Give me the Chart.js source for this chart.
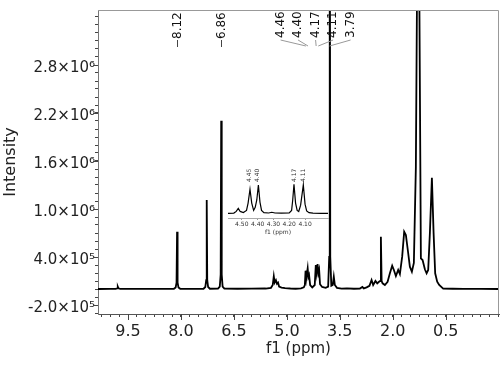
<!DOCTYPE html>
<html>
<head>
<meta charset="utf-8">
<script src="https://cdn.jsdelivr.net/npm/chart.js@4.4.1/dist/chart.umd.min.js"></script>
<style>
  html, body { margin: 0; padding: 0; background: #fff; }
  #wrap { position: relative; width: 501px; height: 373px; }
  #main { position: absolute; left: 0; top: 0; }
  #inset { position: absolute; left: 226px; top: 160px; }
</style>
</head>
<body>
<div id="wrap">
  <canvas id="main" width="501" height="373"></canvas>
  <canvas id="inset" width="104" height="80"></canvas>
</div>
<script>
// 1H spectrum: shift in ppm, intensity in units of 10^6
var shift = [10.35, 10.0, 9.85, 9.81, 9.79, 9.77, 9.72, 9.0, 8.40,
  8.20, 8.15, 8.125, 8.11, 8.095, 8.07, 8.02, 7.60,
  7.36, 7.31, 7.285, 7.27, 7.255, 7.23, 7.18,
  6.95, 6.90, 6.875, 6.86, 6.845, 6.82, 6.77, 6.40, 6.00, 5.60,
  5.45, 5.40, 5.37, 5.345, 5.31, 5.28, 5.25, 5.22, 5.15, 5.05, 4.90, 4.75, 4.60,
  4.52, 4.49, 4.47, 4.45, 4.41, 4.39, 4.37, 4.34, 4.28, 4.21, 4.18, 4.155, 4.13, 4.105, 4.085, 4.06, 4.00, 3.90,
  3.83, 3.80, 3.785, 3.77, 3.74, 3.70, 3.67, 3.64, 3.58, 3.45, 3.30, 3.10,
  2.93, 2.86, 2.82, 2.74, 2.66, 2.60, 2.555, 2.49, 2.44, 2.39, 2.355, 2.336, 2.315, 2.288, 2.223, 2.146,
  2.081, 2.016, 1.968, 1.911, 1.846, 1.798, 1.733, 1.676, 1.628, 1.563, 1.515, 1.458, 1.402,
  1.345, 1.308, 1.279, 1.251, 1.203, 1.155, 1.090, 1.041, 0.996, 0.948, 0.891, 0.843, 0.798,
  0.741, 0.684, 0.571, 0.30, 0.00, -0.50, -1.01];
var intensityE6 = [0, 0.001, 0.002, 0.008, 0.03, 0.008, 0.002, 0.001, 0.002,
  0.003, 0.02, 0.08, 0.716, 0.08, 0.02, 0.003, 0.002,
  0.003, 0.025, 0.11, 1.1125, 0.11, 0.025, 0.003,
  0.004, 0.03, 0.18, 2.104, 0.18, 0.03, 0.004, 0.003, 0.004, 0.006,
  0.015, 0.05, 0.16, 0.08, 0.11, 0.065, 0.08, 0.03, 0.018, 0.012, 0.006, 0.003, 0.008,
  0.02, 0.05, 0.229, 0.13, 0.259, 0.15, 0.175, 0.05, 0.02, 0.05, 0.30, 0.2, 0.3125, 0.2, 0.2375, 0.06, 0.025, 0.015,
  0.03, 0.4, 6.0, 0.4, 0.04, 0.05, 0.154, 0.05, 0.015, 0.005, 0.008, 0.003,
  0.005, 0.025, 0.008, 0.02, 0.04, 0.1125, 0.05, 0.1, 0.071, 0.091, 0.1, 0.654, 0.1, 0.071, 0.05, 0.091,
  0.196, 0.291, 0.2375, 0.1625, 0.2375, 0.1875, 0.404, 0.716, 0.675, 0.45, 0.279, 0.216, 0.325,
  1.529, 4.0, 6.0, 4.0, 0.384, 0.3625, 0.246, 0.196, 0.2375, 0.7, 1.391, 0.7, 0.196,
  0.091, 0.05, 0.005, 0.003, 0.002, 0.001, 0];

// expanded 4.6-3.95 ppm region (inset)
var insetShift = [4.587, 4.55, 4.535, 4.522, 4.51, 4.49, 4.47, 4.46, 4.448, 4.437, 4.425,
  4.415, 4.405, 4.395, 4.385, 4.375, 4.36, 4.33, 4.31, 4.29, 4.25, 4.20,
  4.185, 4.178, 4.170, 4.16, 4.15, 4.14, 4.128, 4.111, 4.10, 4.09, 4.075, 4.05, 4.00, 3.955];
var insetIntensityE6 = [0.002, 0.004, 0.02, 0.05, 0.02, 0.01, 0.03, 0.10, 0.233, 0.10, 0.03,
  0.06, 0.13, 0.274, 0.11, 0.03, 0.008, 0.005, 0.012, 0.005, 0.003, 0.006,
  0.03, 0.13, 0.281, 0.10, 0.03, 0.02, 0.08, 0.274, 0.09, 0.025, 0.008, 0.004, 0.002, 0.002];

var xMajor = [9.5, 8.0, 6.5, 5.0, 3.5, 2.0, 0.5];
var yMajor = [-0.2, 0.4, 1.0, 1.6, 2.2, 2.8];
var yMajorLabels = ['-2.0×10⁵', '4.0×10⁵', '1.0×10⁶', '1.6×10⁶', '2.2×10⁶', '2.8×10⁶'];
var insetTicks = [4.50, 4.40, 4.30, 4.20, 4.10];

var peakLabels = ['8.12', '6.86'];
var peakGroup = ['4.46', '4.40', '4.17', '4.11', '3.79'];
var insetPeakLabels = ['4.45', '4.40', '4.17', '4.11'];

Chart.defaults.font.family = '"DejaVu Sans", Verdana, sans-serif';

function minorTicks(from, to, step) {
  var out = [];
  for (var v = from; v <= to + 1e-9; v += step) out.push({ value: Math.round(v * 1000) / 1000 });
  return out;
}
function majorIndex(list, v) {
  for (var i = 0; i < list.length; i++) if (Math.abs(list[i] - v) < 1e-6) return i;
  return -1;
}
function drawUp(ctx, text, x, y) {
  ctx.save();
  ctx.translate(x, y);
  ctx.rotate(-Math.PI / 2);
  ctx.fillText(text, 0, 0);
  ctx.restore();
}

var mainDecor = {
  id: 'mainDecor',
  afterDraw: function (chart) {
    var ctx = chart.ctx, a = chart.chartArea, sx = chart.scales.x, sy = chart.scales.y;
    ctx.save();
    // top and right frame
    ctx.strokeStyle = '#999';
    ctx.lineWidth = 1;
    ctx.beginPath();
    ctx.moveTo(a.left, a.top + 0.5);
    ctx.lineTo(a.right - 0.5, a.top + 0.5);
    ctx.lineTo(a.right - 0.5, a.bottom);
    ctx.stroke();
    // longer major ticks
    ctx.strokeStyle = '#444';
    ctx.beginPath();
    xMajor.forEach(function (m) {
      var px = Math.round(sx.getPixelForValue(m)) + 0.5;
      ctx.moveTo(px, a.bottom);
      ctx.lineTo(px, a.bottom + 6);
    });
    yMajor.forEach(function (m) {
      var py = Math.round(sy.getPixelForValue(m)) + 0.5;
      ctx.moveTo(a.left - 5, py);
      ctx.lineTo(a.left, py);
    });
    ctx.stroke();

    // peak labels
    ctx.font = '12px "DejaVu Sans"';
    ctx.fillStyle = '#111';
    ctx.textAlign = 'left';
    ctx.textBaseline = 'middle';
    peakLabels.forEach(function (t) {
      var px = Math.round(sx.getPixelForValue(parseFloat(t))) + 0.5;
      ctx.strokeStyle = '#444';
      ctx.beginPath();
      ctx.moveTo(px, 40);
      ctx.lineTo(px, 47);
      ctx.stroke();
      drawUp(ctx, t, px, 39);
    });
    var pxs = peakGroup.map(function (t) { return sx.getPixelForValue(parseFloat(t)); });
    var mid = pxs.reduce(function (s, v) { return s + v; }, 0) / pxs.length;
    ctx.strokeStyle = '#999';
    peakGroup.forEach(function (t, i) {
      var tx = mid + (i - (peakGroup.length - 1) / 2) * 17.5;
      ctx.beginPath();
      ctx.moveTo(tx, 40);
      ctx.lineTo(pxs[i], 46);
      ctx.stroke();
      drawUp(ctx, t, tx, 38);
    });
    ctx.restore();
  }
};

new Chart('main', {
  type: 'line',
  data: {
    datasets: [{
      data: shift.map(function (s, i) { return { x: s, y: intensityE6[i] }; }),
      borderColor: '#000',
      borderWidth: 1.8,
      pointRadius: 0,
      tension: 0
    }]
  },
  options: {
    responsive: false,
    animation: false,
    devicePixelRatio: 1,
    layout: { padding: { top: 10, right: 2, left: 0, bottom: 0 } },
    plugins: { legend: { display: false }, tooltip: { enabled: false } },
    scales: {
      x: {
        type: 'linear',
        reverse: true,
        min: -1.01,
        max: 10.35,
        afterBuildTicks: function (s) { s.ticks = minorTicks(-1.0, 10.25, 0.25); },
        afterFit: function (s) { s.height = 59; },
        grid: { drawOnChartArea: false, tickLength: 3, color: '#444' },
        border: { color: '#555' },
        ticks: {
          autoSkip: false, maxRotation: 0, padding: 5,
          font: { size: 16 }, color: '#222',
          callback: function (v) {
            var i = majorIndex(xMajor, v);
            return i < 0 ? '' : xMajor[i].toFixed(1);
          }
        },
        title: { display: true, text: 'f1 (ppm)', font: { size: 15 }, color: '#222', padding: { top: 0, bottom: 15 } }
      },
      y: {
        min: -0.3125,
        max: 3.4875,
        afterBuildTicks: function (s) { s.ticks = minorTicks(-0.3, 3.4, 0.1); },
        afterFit: function (s) { s.width = 98; },
        grid: { drawOnChartArea: false, tickLength: 3, color: '#444' },
        border: { color: '#777' },
        ticks: {
          autoSkip: false, padding: 0, labelOffset: 3,
          font: { size: 15 }, color: '#222',
          callback: function (v) {
            var i = majorIndex(yMajor, v);
            return i < 0 ? '' : yMajorLabels[i];
          }
        },
        title: { display: true, text: 'Intensity', font: { size: 16 }, color: '#222', padding: { top: 1, bottom: 0 } }
      }
    }
  },
  plugins: [mainDecor]
});

var insetDecor = {
  id: 'insetDecor',
  afterDatasetsDraw: function (chart) {
    var ctx = chart.ctx, sx = chart.scales.x;
    ctx.save();
    ctx.font = '6px "DejaVu Sans"';
    ctx.fillStyle = '#333';
    ctx.textAlign = 'left';
    ctx.textBaseline = 'middle';
    insetPeakLabels.forEach(function (t) {
      drawUp(ctx, t, sx.getPixelForValue(parseFloat(t)), 22);
    });
    ctx.restore();
  }
};

new Chart('inset', {
  type: 'line',
  data: {
    datasets: [{
      data: insetShift.map(function (s, i) { return { x: s, y: insetIntensityE6[i] }; }),
      borderColor: '#000',
      borderWidth: 1.2,
      pointRadius: 0,
      tension: 0
    }]
  },
  options: {
    responsive: false,
    animation: false,
    devicePixelRatio: 1,
    layout: { padding: { top: 5, right: 2, left: 2, bottom: 0 } },
    plugins: { legend: { display: false }, tooltip: { enabled: false } },
    scales: {
      x: {
        type: 'linear',
        reverse: true,
        min: 3.955,
        max: 4.587,
        afterBuildTicks: function (s) { s.ticks = insetTicks.map(function (v) { return { value: v }; }); },
        afterFit: function (s) { s.height = 22; },
        grid: { drawOnChartArea: false, tickLength: 2, color: '#999' },
        border: { color: '#aaa' },
        ticks: {
          autoSkip: false, maxRotation: 0, padding: 1,
          font: { size: 6 }, color: '#333',
          callback: function (v) { return v.toFixed(2); }
        },
        title: { display: true, text: 'f1 (ppm)', font: { size: 6 }, color: '#333', padding: { top: 0, bottom: 4 } }
      },
      y: { display: false, min: -0.043, max: 0.466 }
    }
  },
  plugins: [insetDecor]
});
</script>
</body>
</html>
